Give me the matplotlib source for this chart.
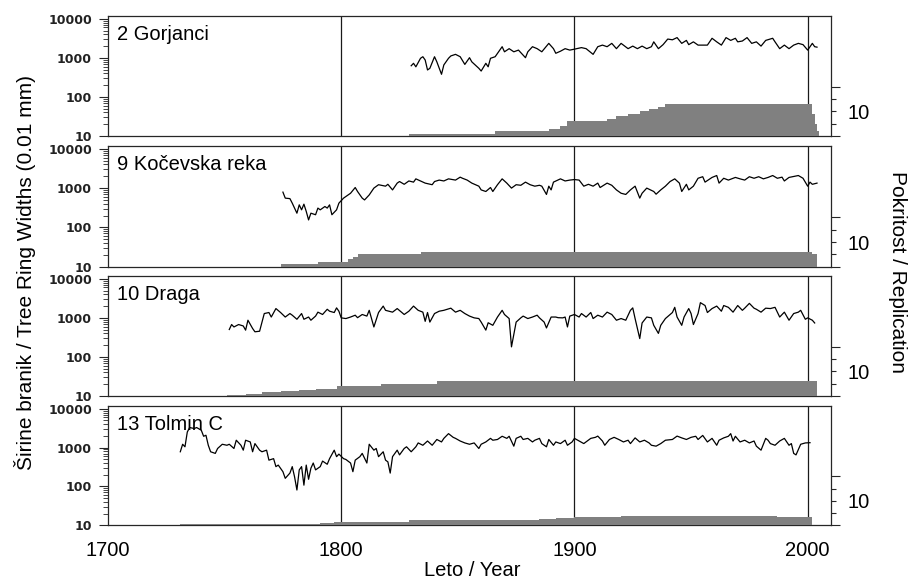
import matplotlib
matplotlib.use("Agg")
import matplotlib.pyplot as plt
from matplotlib.ticker import FixedLocator, NullFormatter, LogLocator, FixedFormatter

plt.rcParams['font.family'] = ['Liberation Sans', 'DejaVu Sans']

# ---------------- data ----------------
site_names = ["2 Gorjanci", "9 Kočevska reka", "10 Draga", "13 Tolmin C"]

g_years = [1830, 1831, 1832, 1834, 1835, 1836, 1837, 1838, 1840, 1841, 1843, 1844, 1846, 1847, 1849, 1851,
           1853, 1855, 1856, 1859, 1860, 1862, 1863, 1864, 1866, 1869, 1870, 1872, 1874, 1876, 1879, 1880,
           1882, 1884, 1886, 1889, 1891, 1892, 1894, 1896, 1898, 1900, 1903, 1905, 1908, 1910, 1912, 1914,
           1916, 1918, 1920, 1923, 1925, 1927, 1929, 1931, 1933, 1934, 1936, 1938, 1940, 1942, 1944, 1946,
           1948, 1949, 1951, 1953, 1957, 1959, 1961, 1963, 1965, 1967, 1969, 1970, 1972, 1974, 1976, 1978,
           1980, 1982, 1985, 1986, 1988, 1990, 1992, 1994, 1996, 1998, 2000, 2002, 2003, 2004]
g_width = [628, 725, 590, 975, 1070, 880, 490, 540, 1070, 790, 380, 660, 975, 1120, 1230, 1070,
           680, 1010, 790, 540, 460, 725, 590, 975, 1070, 1930, 1430, 1720, 1430, 1580, 1010, 1430,
           1930, 1720, 1430, 2350, 1720, 1310, 1480, 1720, 1580, 1670, 1830, 1720, 1230, 1930, 2120, 1930,
           2350, 1720, 2350, 1720, 2000, 1720, 2000, 1720, 1930, 2570, 1720, 2180, 3030, 2900, 3300, 2350,
           2800, 2180, 2570, 2120, 2120, 3170, 2570, 2120, 3300, 2800, 3170, 2570, 2700, 3300, 2350, 2570,
           2000, 2800, 3170, 2570, 1720, 2120, 1720, 2120, 2350, 2180, 1580, 2350, 1930, 1880]
g_rep_edges = [1829, 1846, 1866, 1889, 1894, 1897, 1914, 1918, 1923, 1928, 1932, 1936, 1939, 2002, 2003, 2004, 2005]
g_rep_count = [1, 1, 2, 3, 4, 6, 7, 8, 9, 10, 11, 12, 13, 9, 5, 2]

k_years = [1775, 1776, 1778, 1779, 1781, 1782, 1783, 1784, 1785, 1786, 1787, 1789, 1790, 1791, 1793, 1794,
           1795, 1796, 1798, 1799, 1801, 1804, 1806, 1807, 1809, 1810, 1812, 1814, 1816, 1819, 1820, 1822,
           1824, 1825, 1827, 1829, 1831, 1832, 1834, 1836, 1839, 1840, 1842, 1844, 1846, 1849, 1851, 1852,
           1854, 1856, 1859, 1860, 1862, 1864, 1865, 1867, 1869, 1871, 1873, 1875, 1877, 1879, 1881, 1883,
           1885, 1886, 1888, 1889, 1890, 1891, 1894, 1896, 1898, 1900, 1902, 1904, 1906, 1908, 1910, 1911,
           1914, 1916, 1918, 1920, 1922, 1924, 1926, 1928, 1929, 1931, 1934, 1935, 1937, 1939, 1941, 1943,
           1945, 1946, 1948, 1949, 1951, 1953, 1955, 1956, 1959, 1961, 1962, 1964, 1966, 1969, 1971, 1973,
           1975, 1977, 1979, 1981, 1983, 1985, 1987, 1989, 1990, 1992, 1994, 1996, 1998, 2000, 2001, 2002, 2004]
k_width = [790, 556, 540, 414, 230, 375, 280, 390, 255, 155, 230, 210, 310, 280, 340, 310,
           375, 210, 280, 414, 556, 740, 1035, 820, 556, 500, 670, 1000, 1220, 1120, 1250, 900,
           1340, 1470, 1250, 1520, 1420, 1720, 1520, 1340, 1220, 1470, 1600, 1520, 1720, 1600, 1900, 1780,
           1600, 1340, 1120, 900, 820, 1035, 820, 1220, 1720, 1340, 1000, 1220, 1180, 1420, 1220, 1120,
           1180, 1120, 690, 1120, 900, 1420, 1720, 1520, 1600, 1650, 1600, 1120, 1250, 1120, 1340, 1035,
           1340, 1180, 900, 740, 690, 900, 1120, 556, 740, 1000, 820, 700, 900, 1120, 1470, 1720,
           1340, 820, 1250, 900, 1120, 1780, 1950, 1420, 1870, 2090, 1340, 1780, 1600, 1870, 1720, 1600,
           1950, 1780, 1950, 1720, 1870, 2090, 1780, 1900, 1520, 1870, 1980, 2090, 1780, 1120, 1420, 1250, 1340]
k_rep_edges = [1774, 1790, 1803, 1805, 1807, 1834, 2002, 2004]
k_rep_count = [1, 2, 3, 4, 5, 6, 5]

d_years = [1752, 1753, 1754, 1756, 1758, 1759, 1760, 1762, 1763, 1765, 1767, 1769, 1770, 1772, 1774, 1776,
           1778, 1779, 1781, 1783, 1784, 1786, 1787, 1789, 1790, 1792, 1794, 1795, 1797, 1798, 1799, 1800,
           1802, 1804, 1806, 1807, 1809, 1811, 1812, 1814, 1816, 1818, 1819, 1822, 1824, 1826, 1827, 1829,
           1831, 1833, 1835, 1836, 1837, 1838, 1840, 1842, 1844, 1847, 1849, 1851, 1853, 1855, 1857, 1859,
           1860, 1862, 1863, 1865, 1867, 1869, 1870, 1872, 1873, 1875, 1877, 1878, 1880, 1882, 1884, 1885,
           1887, 1888, 1890, 1892, 1893, 1895, 1896, 1897, 1898, 1900, 1902, 1903, 1905, 1907, 1908, 1910,
           1912, 1914, 1916, 1918, 1920, 1922, 1924, 1925, 1926, 1928, 1929, 1931, 1933, 1934, 1936, 1937,
           1939, 1942, 1943, 1944, 1946, 1947, 1949, 1950, 1951, 1953, 1954, 1956, 1957, 1959, 1961, 1963,
           1964, 1966, 1968, 1970, 1972, 1973, 1975, 1977, 1978, 1980, 1982, 1984, 1986, 1988, 1990, 1992,
           1994, 1996, 1997, 1999, 2000, 2002, 2003]
d_width = [504, 675, 585, 675, 620, 485, 870, 535, 440, 455, 1290, 1370, 1050, 1730, 1370, 1050,
           1290, 1170, 920, 1290, 920, 1050, 870, 1110, 1400, 1220, 1660, 1480, 1370, 1800, 1480, 1000,
           960, 1050, 1170, 1010, 1220, 1110, 1560, 585, 1370, 2000, 1560, 1400, 1730, 1370, 1220, 1480,
           2000, 1560, 1400, 815, 1370, 780, 1290, 1480, 1560, 1770, 1400, 1560, 1290, 1110, 1000, 960,
           780, 485, 750, 645, 1050, 1560, 1220, 960, 181, 780, 1000, 1110, 960, 1050, 1170, 1000,
           780, 552, 1050, 1050, 1010, 1000, 1050, 585, 1110, 1220, 1050, 1290, 1050, 1370, 960, 1170,
           1050, 1400, 1220, 870, 960, 870, 1560, 1800, 960, 295, 740, 1050, 1000, 645, 400, 645,
           960, 1370, 1860, 1050, 645, 1050, 1730, 1290, 675, 1290, 2450, 2070, 1370, 1730, 2000, 1480,
           2070, 1860, 1400, 2070, 1560, 1770, 2350, 1770, 1660, 1400, 1770, 1730, 1860, 1050, 1400, 870,
           1290, 1400, 1560, 920, 1000, 870, 740]
d_rep_edges = [1751, 1759, 1766, 1774, 1782, 1789, 1798, 1817, 1841, 2004]
d_rep_count = [0.5, 1, 1.5, 2, 2.5, 3, 4, 5, 6]

t_years = [1731, 1732, 1733, 1734, 1735, 1737, 1738, 1740, 1741, 1742, 1743, 1744, 1746, 1747, 1749, 1751,
           1752, 1754, 1755, 1757, 1758, 1759, 1761, 1762, 1763, 1765, 1766, 1768, 1769, 1771, 1772, 1773,
           1775, 1776, 1778, 1779, 1780, 1781, 1782, 1783, 1784, 1785, 1786, 1787, 1788, 1789, 1791, 1792,
           1794, 1795, 1797, 1798, 1799, 1801, 1802, 1804, 1805, 1806, 1808, 1809, 1811, 1812, 1814, 1815,
           1816, 1818, 1819, 1820, 1821, 1822, 1824, 1825, 1827, 1828, 1830, 1832, 1833, 1835, 1837, 1839,
           1841, 1843, 1844, 1846, 1848, 1849, 1851, 1853, 1855, 1857, 1859, 1860, 1862, 1864, 1865, 1867,
           1869, 1871, 1872, 1874, 1875, 1877, 1878, 1880, 1882, 1883, 1885, 1886, 1888, 1889, 1891, 1892,
           1894, 1896, 1897, 1899, 1900, 1902, 1904, 1907, 1909, 1910, 1912, 1913, 1915, 1917, 1919, 1921,
           1923, 1924, 1926, 1928, 1930, 1932, 1933, 1935, 1937, 1939, 1942, 1944, 1946, 1948, 1950, 1952,
           1953, 1955, 1957, 1959, 1961, 1962, 1964, 1966, 1967, 1968, 1969, 1971, 1973, 1975, 1977, 1978,
           1980, 1982, 1983, 1984, 1986, 1988, 1990, 1992, 1993, 1994, 1995, 1997, 1999, 2001]
t_width = [782, 1220, 1050, 2520, 3290, 3100, 3290, 2800, 1960, 2080, 1150, 782, 710, 950, 1220, 1150,
           1220, 950, 1550, 1150, 860, 1550, 1400, 782, 1270, 860, 782, 860, 476, 520, 324, 355,
           240, 162, 221, 324, 176, 81, 267, 324, 108, 355, 153, 295, 401, 267, 324, 450,
           373, 520, 860, 585, 680, 520, 495, 401, 240, 476, 585, 710, 401, 1220, 860, 950,
           585, 782, 476, 430, 221, 585, 860, 650, 950, 1050, 782, 1050, 1320, 1150, 1480, 1150,
           1620, 1400, 1730, 2290, 1840, 1730, 1480, 1320, 1220, 1320, 950, 1220, 1400, 1730, 1550, 1620,
           1960, 1730, 1960, 1090, 1730, 1960, 1620, 1730, 1400, 1550, 1730, 1270, 1050, 1620, 1150, 1400,
           1270, 1550, 1150, 1400, 1730, 1480, 1270, 1730, 1840, 1980, 1480, 1150, 1620, 1840, 1620, 1400,
           1550, 1270, 1780, 1400, 1550, 1320, 1150, 1090, 1270, 1550, 1620, 1980, 1780, 1620, 1840, 1960,
           1620, 2060, 1400, 1730, 1150, 1550, 1780, 1960, 2290, 1480, 1960, 1400, 1550, 1320, 1480, 1090,
           860, 1730, 1550, 1270, 1150, 1480, 1730, 1150, 1270, 710, 650, 1220, 1320, 1340]
t_rep_edges = [1731, 1791, 1797, 1829, 1885, 1892, 1900, 1920, 1987, 2002]
t_rep_count = [0.5, 1, 1.5, 2, 2.5, 3, 3.5, 4, 3.5]

x_ticks = [1700, 1800, 1900, 2000]
y_ticks = [10, 100, 1000, 10000]
ref_lines = [1800, 1900, 2000]

series = [
    (g_years, g_width, g_rep_edges, g_rep_count),
    (k_years, k_width, k_rep_edges, k_rep_count),
    (d_years, d_width, d_rep_edges, d_rep_count),
    (t_years, t_width, t_rep_edges, t_rep_count),
]

# ---------------- layout ----------------
W, H = 910, 580
fig = plt.figure(figsize=(W / 100, H / 100), dpi=100)
left_px, right_px = 108, 831
panel_tops = [15.7, 145.7, 275.7, 405.7]
panel_bottoms = [136.0, 266.7, 396.0, 525.3]

frame_col = '#262626'
bar_col = '#808080'

for i, (yrs, wid, edges, counts) in enumerate(series):
    t, b = panel_tops[i], panel_bottoms[i]
    ax = fig.add_axes([left_px / W, 1 - b / H, (right_px - left_px) / W, (b - t) / H])
    ax.set_yscale('log')
    ax.set_xlim(1700, 2010)
    ax.set_ylim(10, 12000)

    for xv in ref_lines:
        ax.axvline(xv, color='#1a1a1a', lw=0.9, zorder=1)
    ax.plot(yrs, wid, color='black', lw=0.9, zorder=3)

    ax.yaxis.set_major_locator(FixedLocator(y_ticks))
    ax.yaxis.set_minor_locator(LogLocator(base=10, subs=range(2, 10), numticks=20))
    ax.yaxis.set_minor_formatter(NullFormatter())
    ax.set_yticklabels([str(v) for v in y_ticks], fontfamily='DejaVu Sans',
                       fontweight='bold', fontsize=9, color='#222222')
    ax.tick_params(axis='y', which='major', length=6.5, width=0.8, pad=5, color=frame_col)
    ax.tick_params(axis='y', which='minor', length=3.6, width=0.6, color=frame_col)

    ax.set_xticks(x_ticks)
    ax.tick_params(axis='x', length=0, pad=11, labelsize=14.5)
    if i < 3:
        ax.tick_params(axis='x', labelbottom=False)

    for s in ax.spines.values():
        s.set_color(frame_col)
        s.set_linewidth(0.9)
    ax.spines['right'].set_visible(False)

    ax.text(0.012, 0.80, site_names[i], transform=ax.transAxes, fontsize=14.5,
            ha='left', va='baseline', color='black', zorder=5)

    ax2 = ax.twinx()
    ax2.set_ylim(0, 49)
    ax2.stairs(counts, edges, fill=True, color=bar_col, lw=0, zorder=2)
    ax2.set_yticks([0, 20])
    ax2.set_yticklabels(['', ''])
    ax2.set_yticks([5, 10, 15], minor=True)
    ax2.yaxis.set_minor_formatter(FixedFormatter(['', '10', '']))
    ax2.tick_params(axis='y', which='major', length=6.5, width=0.8, color=frame_col)
    ax2.tick_params(axis='y', which='minor', length=3.6, width=0.8, color=frame_col,
                    labelsize=14.5, pad=8.5)
    for name, s in ax2.spines.items():
        if name == 'right':
            s.set_color(frame_col)
            s.set_linewidth(0.9)
        else:
            s.set_visible(False)

fig.text(25 / W, 1 - 272 / H, "Širine branik / Tree Ring Widths (0.01 mm)", rotation=90,
         ha='center', va='center', fontsize=15)
fig.text(898 / W, 1 - 272 / H, "Pokritost / Replication", rotation=-90,
         ha='center', va='center', fontsize=15)
fig.text(472 / W, 1 - 570 / H, "Leto / Year", ha='center', va='center', fontsize=14.5)

fig.savefig("out.png", dpi=100)
